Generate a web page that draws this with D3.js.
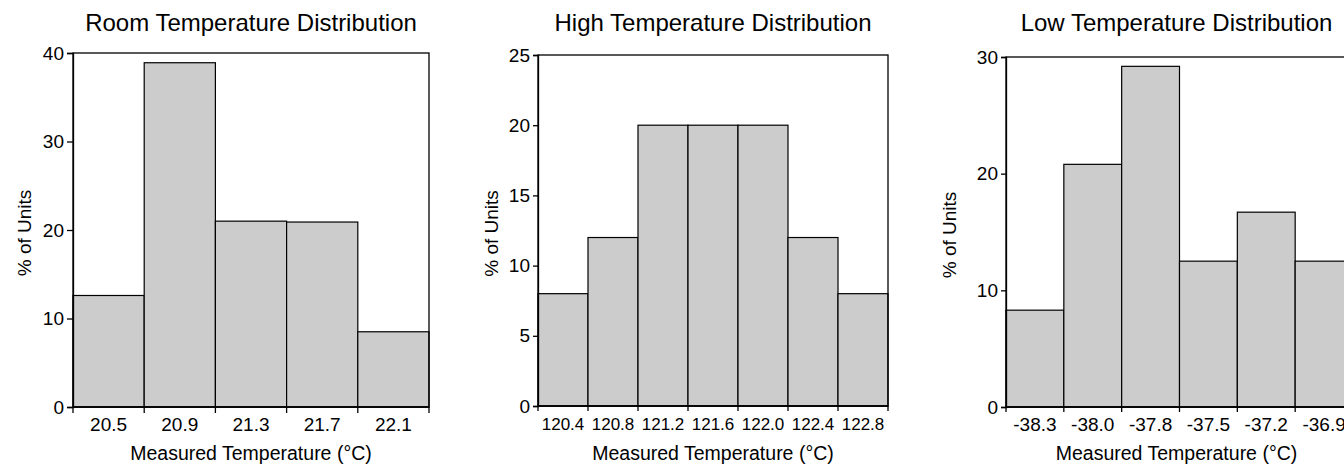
<!DOCTYPE html>
<html>
<head>
<meta charset="utf-8">
<script src="https://cdn.jsdelivr.net/npm/d3@7.9.0/dist/d3.min.js"></script>
<style>
  html, body { margin: 0; padding: 0; background: #fff; overflow: hidden; }
  text { font-family: "Liberation Sans", Arial, Helvetica, sans-serif; fill: #000; }
</style>
</head>
<body>
<svg id="chart" width="1344" height="464"></svg>
<script>
// --- data ---
const roomBins = ['20.5', '20.9', '21.3', '21.7', '22.1'];
const roomPct = [12.6, 38.9, 21.0, 20.9, 8.5];

const highBins = ['120.4', '120.8', '121.2', '121.6', '122.0', '122.4', '122.8'];
const highPct = [8, 12, 20, 20, 20, 12, 8];

const lowBins = ['-38.3', '-38.0', '-37.8', '-37.5', '-37.2', '-36.9'];
const lowPct = [8.3, 20.8, 29.2, 12.5, 16.7, 12.5];

const titles = ['Room Temperature Distribution', 'High Temperature Distribution', 'Low Temperature Distribution'];
const yTicks = [[0, 10, 20, 30, 40], [0, 5, 10, 15, 20, 25], [0, 10, 20, 30]];
const yMax = [40, 25, 30];

// panel boxes (pixels)
const panels = [
  { bins: roomBins, pct: roomPct, x0: 73, x1: 429, y0: 53, y1: 407, tickFont: 19, ylabX: 31, tick: 6 },
  { bins: highBins, pct: highPct, x0: 538, x1: 888, y0: 55, y1: 406, tickFont: 17, ylabX: 498, tick: 5 },
  { bins: lowBins, pct: lowPct, x0: 1006, x1: 1353, y0: 57, y1: 407, tickFont: 19, ylabX: 956, tick: 5 }
];

const svg = d3.select('#chart');

panels.forEach((p, i) => {
  const g = svg.append('g');

  const x = d3.scaleBand().domain(p.bins).range([p.x0, p.x1]).padding(0);
  const y = d3.scaleLinear().domain([0, yMax[i]]).range([p.y1, p.y0]);

  // bars
  g.selectAll('rect.bar')
    .data(p.bins.map((b, k) => ({ bin: b, v: p.pct[k] })))
    .join('rect')
    .attr('class', 'bar')
    .attr('x', d => x(d.bin))
    .attr('y', d => y(d.v))
    .attr('width', x.bandwidth())
    .attr('height', d => y(0) - y(d.v))
    .attr('fill', '#cccccc')
    .attr('stroke', '#000')
    .attr('stroke-width', 1.2);

  // frame
  g.append('rect')
    .attr('x', p.x0).attr('y', p.y0)
    .attr('width', p.x1 - p.x0).attr('height', p.y1 - p.y0)
    .attr('fill', 'none').attr('stroke', '#000').attr('stroke-width', 1.3);

  // y axis
  const yAxis = d3.axisLeft(y).tickValues(yTicks[i]).tickSize(p.tick).tickPadding(3).tickFormat(d3.format('d'));
  const ya = g.append('g').attr('transform', `translate(${p.x0},0)`).call(yAxis);
  ya.select('.domain').attr('stroke-width', 1.3);
  ya.selectAll('.tick line').attr('stroke-width', 1.3);
  ya.selectAll('text').style('font-size', '19px').attr('fill', '#000');

  // x axis: ticks at bin edges, labels at bin centres
  const edges = p.bins.map(b => x(b)).concat([x(p.bins[p.bins.length - 1]) + x.bandwidth()]);
  g.append('line')
    .attr('x1', p.x0).attr('x2', p.x1).attr('y1', p.y1).attr('y2', p.y1)
    .attr('stroke', '#000').attr('stroke-width', 1.6);
  g.selectAll('line.xt')
    .data(edges)
    .join('line')
    .attr('class', 'xt')
    .attr('x1', d => d).attr('x2', d => d)
    .attr('y1', p.y1).attr('y2', p.y1 + p.tick)
    .attr('stroke', '#000').attr('stroke-width', 1.3);
  g.selectAll('text.xl')
    .data(p.bins)
    .join('text')
    .attr('class', 'xl')
    .attr('x', d => x(d) + x.bandwidth() / 2)
    .attr('y', p.y1 + 24)
    .attr('text-anchor', 'middle')
    .style('font-size', p.tickFont + 'px')
    .text(d => d);

  // axis titles
  const cx = (p.x0 + p.x1) / 2;
  g.append('text')
    .attr('x', i === 2 ? cx - 3 : cx)
    .attr('y', 31)
    .attr('text-anchor', 'middle')
    .style('font-size', '24px')
    .text(titles[i]);

  g.append('text')
    .attr('x', i === 2 ? cx - 3 : cx)
    .attr('y', 460)
    .attr('text-anchor', 'middle')
    .style('font-size', '19.5px')
    .text('Measured Temperature (°C)');

  g.append('text')
    .attr('transform', `translate(${p.ylabX},${(p.y0 + p.y1) / 2 + 3}) rotate(-90)`)
    .attr('text-anchor', 'middle')
    .style('font-size', '19px')
    .text('% of Units');
});
</script>
</body>
</html>
